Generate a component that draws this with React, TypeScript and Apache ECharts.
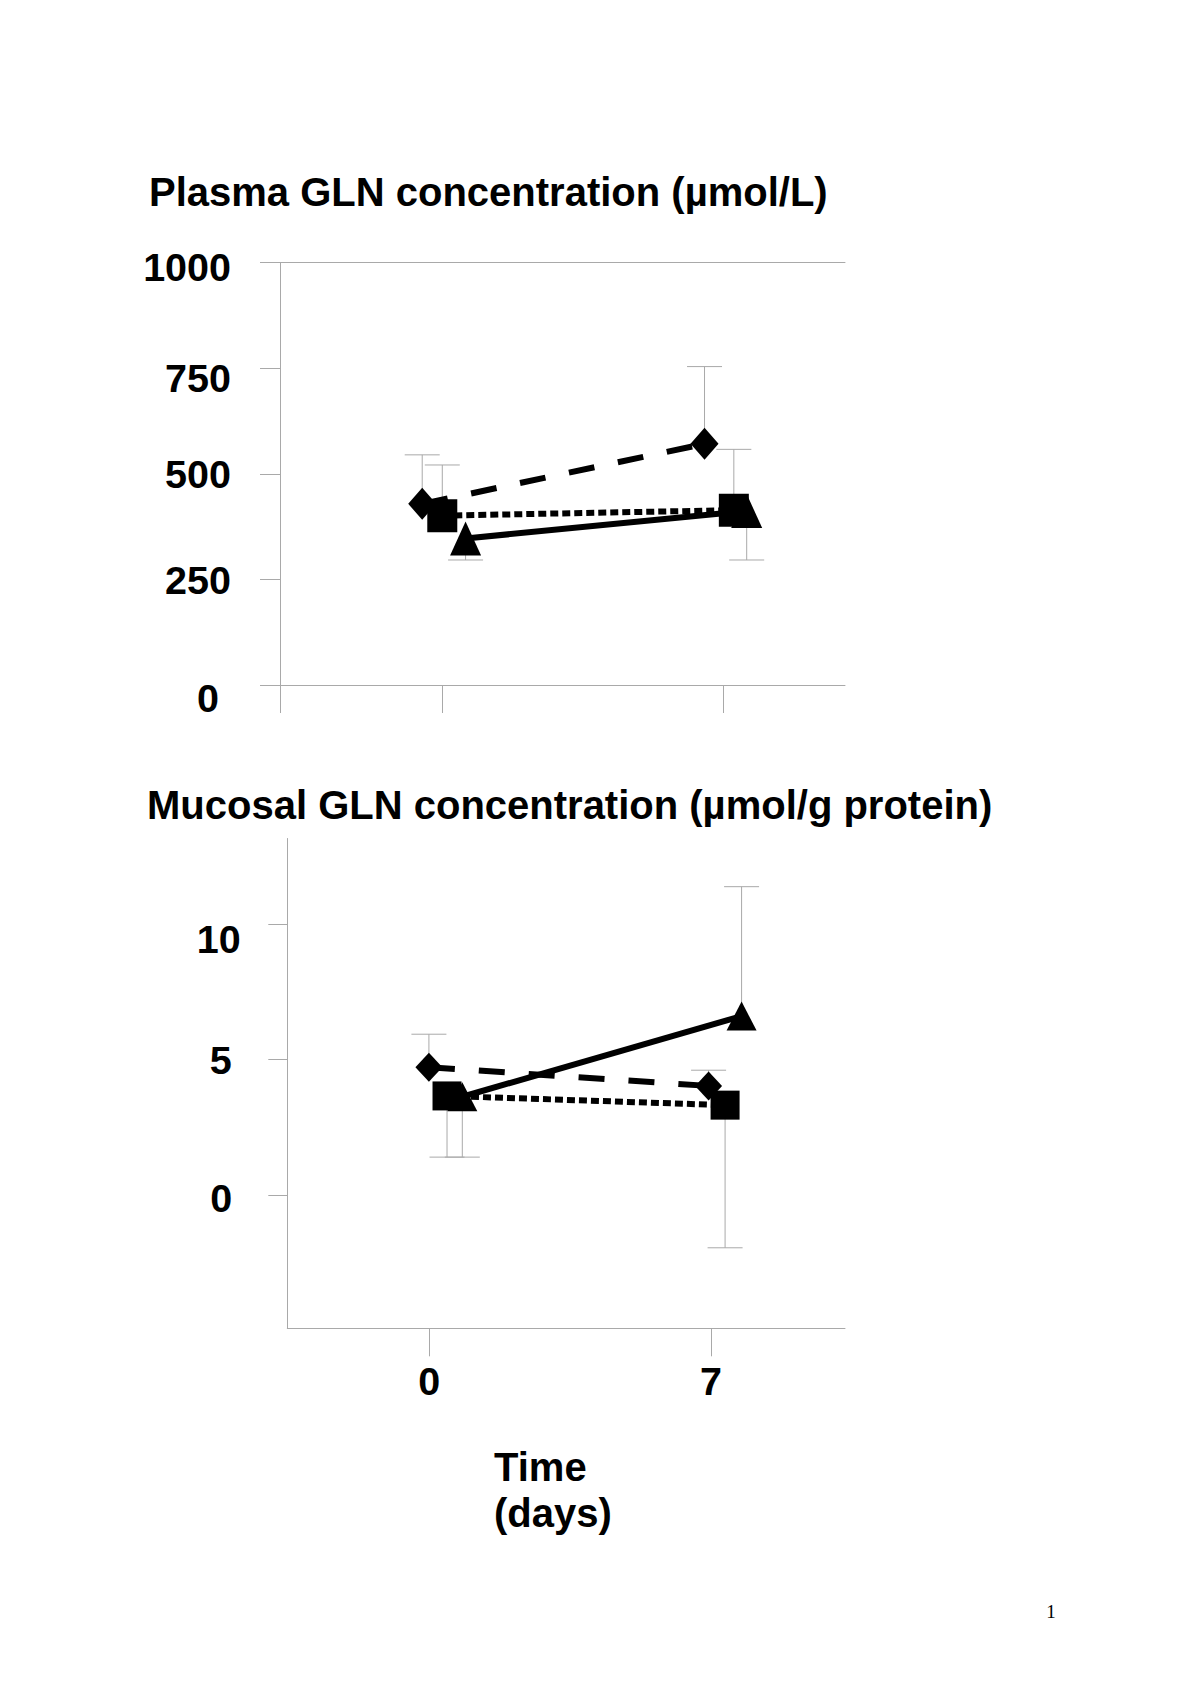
import React, { useEffect, useRef } from 'react';
import * as echarts from 'echarts';

// ---------------- DATA ----------------
const DAYS = [0, 7];
const X_TICK_VALUES = [0, 7];
const PLASMA_Y_TICKS = [0, 250, 500, 750, 1000];
const MUCOSAL_Y_TICKS = [0, 5, 10];

const PLASMA_TITLE = 'Plasma GLN concentration (µmol/L)';
const MUCOSAL_TITLE = 'Mucosal GLN concentration (µmol/g protein)';
const X_NAME_LINE1 = 'Time';
const X_NAME_LINE2 = '(days)';
const PAGE_NUMBER = '1';

// Plasma GLN (µmol/L): mean and end of the error bar, day 0 and day 7
const plasmaDiamond = [429, 571];
const plasmaDiamondErrEnd = [545, 754];
const plasmaSquare = [401, 414];
const plasmaSquareErrEnd = [521, 558];
const plasmaTriangle = [347, 412];
const plasmaTriangleErrEnd = [296, 296];

// Mucosal GLN (µmol/g protein)
const mucosalDiamond = [4.72, 4.03];
const mucosalDiamondErrEnd = [5.94, 4.61];
const mucosalSquare = [3.66, 3.32];
const mucosalSquareErrEnd = [1.4, -1.95];
const mucosalTriangle = [3.63, 6.61];
const mucosalTriangleErrEnd = [1.4, 11.39];

// ---------------- LAYOUT / STYLE ----------------
const GRAY = '#a9a9a9';
const FONT = "'Liberation Sans', Arial, Helvetica, sans-serif";
const LABEL_SIZE = 39.5;
const LINE_W = 6;
const DASH = [26, 24];
const DOT = [8, 4];
const CAP_W = 35;

const P_XMIN = -4.041;
const P_XMAX = 10.028;
const M_XMIN = -3.529;
const M_XMAX = 10.33;
const M_YMIN = -4.924;
const M_YMAX = 13.17;

// horizontal offsets (in days) of each marker group, as drawn
const PLASMA_JITTER: Record<string, number[]> = {
  diamond: [-0.5, -0.47],
  square: [0, 0.26],
  triangle: [0.58, 0.58],
};
const MUCOSAL_JITTER: Record<string, number[]> = {
  diamond: [-0.01, -0.06],
  square: [0.44, 0.35],
  triangle: [0.82, 0.76],
};

// label nudges: [down*2 (padding top), left]
const PLASMA_LABEL_PAD: Record<string, number[]> = {
  n0: [26, 12],
  n250: [1, 0],
  n500: [1, 0],
  n750: [20, 0],
  n1000: [9, 0],
};
const MUCOSAL_LABEL_PAD: Record<string, number[]> = {
  n0: [5, 8.5],
  n5: [1, 9],
  n10: [29, 0],
};

const labelFont = {
  fontFamily: FONT,
  fontWeight: 'bold' as const,
  fontSize: LABEL_SIZE,
  color: '#000',
};

function makeRich(pads: Record<string, number[]>) {
  const rich: Record<string, any> = {};
  Object.keys(pads).forEach((k) => {
    rich[k] = { ...labelFont, padding: [pads[k][0], pads[k][1], 0, 0] };
  });
  return rich;
}

type Group = {
  key: string;
  symbol: string;
  values: number[];
  errEnds: number[];
  lineType: any;
};

function buildSeries(
  xi: number,
  yi: number,
  groups: Group[],
  jitter: Record<string, number[]>,
  sizes: Record<string, number[]>
) {
  const err: any[] = [];
  const lines: any[] = [];
  const marks: any[] = [];
  groups.forEach((g) => {
    const xs = DAYS.map((d, i) => d + jitter[g.key][i]);
    err.push({
      type: 'custom',
      xAxisIndex: xi,
      yAxisIndex: yi,
      z: 1,
      silent: true,
      clip: false,
      encode: { x: 0, y: [1, 2] },
      data: xs.map((x, i) => [x, g.values[i], g.errEnds[i]]),
      renderItem: (_params: any, api: any) => {
        const x = api.value(0);
        const p0 = api.coord([x, api.value(1)]);
        const p1 = api.coord([x, api.value(2)]);
        return {
          type: 'group',
          children: [
            {
              type: 'line',
              shape: { x1: p0[0], y1: p0[1], x2: p1[0], y2: p1[1] },
              style: { stroke: GRAY, lineWidth: 1 },
            },
            {
              type: 'line',
              shape: { x1: p1[0] - CAP_W / 2, y1: p1[1], x2: p1[0] + CAP_W / 2, y2: p1[1] },
              style: { stroke: GRAY, lineWidth: 1 },
            },
          ],
        };
      },
    });
    lines.push({
      type: 'line',
      xAxisIndex: xi,
      yAxisIndex: yi,
      z: 2,
      silent: true,
      showSymbol: false,
      symbol: 'none',
      data: xs.map((x, i) => [x, g.values[i]]),
      lineStyle: { color: '#000', width: LINE_W, type: g.lineType, opacity: 1 },
    });
    marks.push({
      type: 'scatter',
      xAxisIndex: xi,
      yAxisIndex: yi,
      z: 3,
      silent: true,
      symbol: g.symbol,
      symbolSize: sizes[g.key],
      itemStyle: { color: '#000', opacity: 1 },
      data: xs.map((x, i) => [x, g.values[i]]),
    });
  });
  return [...err, ...lines, ...marks];
}

const axisLineStyle = { onZero: false, show: true, lineStyle: { color: GRAY, width: 1 } };

export default function App() {
  const ref = useRef<HTMLDivElement>(null);

  useEffect(() => {
    if (!ref.current) return;
    const chart = echarts.init(ref.current, undefined, { renderer: 'svg' });

    const plasmaGroups: Group[] = [
      { key: 'diamond', symbol: 'diamond', values: plasmaDiamond, errEnds: plasmaDiamondErrEnd, lineType: DASH },
      { key: 'square', symbol: 'rect', values: plasmaSquare, errEnds: plasmaSquareErrEnd, lineType: DOT },
      { key: 'triangle', symbol: 'triangle', values: plasmaTriangle, errEnds: plasmaTriangleErrEnd, lineType: 'solid' },
    ];
    const mucosalGroups: Group[] = [
      { key: 'diamond', symbol: 'diamond', values: mucosalDiamond, errEnds: mucosalDiamondErrEnd, lineType: DASH },
      { key: 'square', symbol: 'rect', values: mucosalSquare, errEnds: mucosalSquareErrEnd, lineType: DOT },
      { key: 'triangle', symbol: 'triangle', values: mucosalTriangle, errEnds: mucosalTriangleErrEnd, lineType: 'solid' },
    ];

    const plasmaSizes = { diamond: [28, 32], square: [30, 33], triangle: [31, 34] };
    const mucosalSizes = { diamond: [27, 29], square: [29, 29], triangle: [30, 29] };

    const titleStyle = {
      fontFamily: FONT,
      fontWeight: 'bold',
      fontSize: 40,
      fill: '#000',
      textAlign: 'left',
      align: 'left',
      textVerticalAlign: 'middle',
      verticalAlign: 'middle',
    };

    const option: any = {
      animation: false,
      backgroundColor: '#ffffff',
      grid: [
        { left: 280, top: 262.7, width: 565, height: 422.3 },
        { left: 287.3, top: 838.5, width: 557.7, height: 489.8 },
      ],
      xAxis: [
        {
          gridIndex: 0,
          type: 'value',
          min: P_XMIN,
          max: P_XMAX,
          axisLine: axisLineStyle,
          axisTick: { show: true, customValues: [P_XMIN, ...X_TICK_VALUES], length: 28, lineStyle: { color: GRAY, width: 1 } },
          axisLabel: { show: false },
          splitLine: { show: false },
        },
        {
          gridIndex: 0,
          type: 'value',
          position: 'top',
          min: P_XMIN,
          max: P_XMAX,
          axisLine: axisLineStyle,
          axisTick: { show: false },
          axisLabel: { show: false },
          splitLine: { show: false },
        },
        {
          gridIndex: 1,
          type: 'value',
          min: M_XMIN,
          max: M_XMAX,
          axisLine: axisLineStyle,
          axisTick: { show: true, customValues: X_TICK_VALUES, length: 28, lineStyle: { color: GRAY, width: 1 } },
          axisLabel: { show: true, customValues: X_TICK_VALUES, margin: 33, ...labelFont },
          splitLine: { show: false },
        },
      ],
      yAxis: [
        {
          gridIndex: 0,
          type: 'value',
          min: PLASMA_Y_TICKS[0],
          max: PLASMA_Y_TICKS[PLASMA_Y_TICKS.length - 1],
          interval: PLASMA_Y_TICKS[1] - PLASMA_Y_TICKS[0],
          axisLine: axisLineStyle,
          axisTick: { show: true, length: 20, lineStyle: { color: GRAY, width: 1 } },
          axisLabel: {
            show: true,
            margin: 49,
            ...labelFont,
            formatter: (v: number) => `{n${v}|${v}}`,
            rich: makeRich(PLASMA_LABEL_PAD),
          },
          splitLine: { show: false },
        },
        {
          gridIndex: 1,
          type: 'value',
          min: M_YMIN,
          max: M_YMAX,
          axisLine: axisLineStyle,
          axisTick: { show: true, customValues: MUCOSAL_Y_TICKS, length: 19, lineStyle: { color: GRAY, width: 1 } },
          axisLabel: {
            show: true,
            customValues: MUCOSAL_Y_TICKS,
            margin: 46.6,
            ...labelFont,
            formatter: (v: number) => `{n${v}|${v}}`,
            rich: makeRich(MUCOSAL_LABEL_PAD),
          },
          splitLine: { show: false },
        },
      ],
      graphic: [
        { type: 'text', x: 149, y: 192, style: { ...titleStyle, text: PLASMA_TITLE } },
        { type: 'text', x: 147, y: 805, style: { ...titleStyle, text: MUCOSAL_TITLE } },
        { type: 'text', x: 494, y: 1467, style: { ...titleStyle, text: X_NAME_LINE1 } },
        { type: 'text', x: 494, y: 1513, style: { ...titleStyle, text: X_NAME_LINE2 } },
        {
          type: 'text',
          x: 1051,
          y: 1611.5,
          style: {
            text: PAGE_NUMBER,
            fontFamily: "'Liberation Serif', 'Times New Roman', serif",
            fontSize: 19,
            fill: '#000',
            textAlign: 'center',
            align: 'center',
            textVerticalAlign: 'middle',
            verticalAlign: 'middle',
          },
        },
      ],
      series: [
        ...buildSeries(0, 0, plasmaGroups, PLASMA_JITTER, plasmaSizes),
        ...buildSeries(2, 1, mucosalGroups, MUCOSAL_JITTER, mucosalSizes),
      ],
    };

    chart.setOption(option);
    return () => {
      chart.dispose();
    };
  }, []);

  return (
    <div
      ref={ref}
      style={{ position: 'absolute', left: 0, top: 0, width: 1198, height: 1696, background: '#fff' }}
    />
  );
}
